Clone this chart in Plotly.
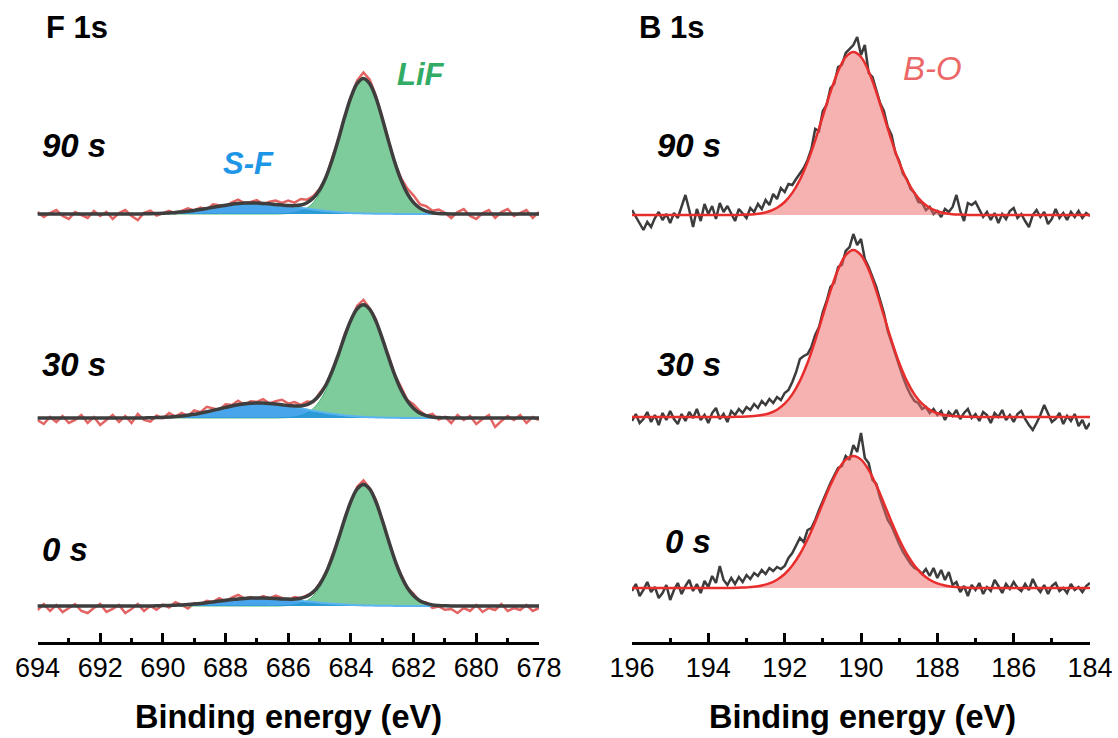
import numpy as np
import plotly.graph_objects as go

W, H = 1118, 738

# ------------------------------------------------------------------ data
SAMPLES = ["90 s", "30 s", "0 s"]

# energy grids (eV)
F_ENERGY = np.round(np.linspace(694.0, 678.0, 81), 2)       # 0.2 eV step
B_ENERGY_RAW = np.round(np.linspace(196.0, 184.0, 121), 2)  # 0.1 eV step
B_ENERGY_FIT = np.round(np.linspace(196.0, 184.0, 61), 2)   # 0.2 eV step

F_TICKS = [694, 692, 690, 688, 686, 684, 682, 680, 678]
B_TICKS = [196, 194, 192, 190, 188, 186, 184]

# F 1s measured spectra (a.u.)
F_RAW_90S = [2, -3, 1, 4, -2, -5, 2, -1, -4, 3, -2, 2, -5, 1, 4, -2, -6,
             1.2, 3.3, -1.5, 0.7, 3.1, 0.5, 3.1, 5.7, 3.6, 6.5, 4.6, 9.7, 8.8, 7.8, 11.7, 14.4, 10.9, 12, 13.9, 9.6, 12.2, 13.5,
             11, 13.5, 11.4, 15, 14.3, 17.9, 25.2, 35.8, 56.0, 74.7, 97.9, 114.8, 133.7, 141.6, 134.3, 118.0, 95.6, 74.0,
             50.6, 35.8, 25.4, 18.4, 9.9, 7.8, 3.3, 4.5, 1.2,
             -4, 2, 5, -2, -5, 1, 4, -4, 2, 5, -2, 1, 4, -4, 2]
F_RAW_30S = [-2, -6, 1, -4, 2, -5, -2, 3, -5, 1, -7, -2, 3, -4, 2, -5, 4, -2,
             -3.7, 2.4, -0.3, 5.0, 1.4, 5.0, 1.8, 7.7, 5.9, 11.2, 9.6, 8.1, 13.6, 13.0, 17.2, 13.2, 16.8, 16.0, 18.9, 14.5, 16.9,
             18.2, 14.4, 16.0, 13.1, 16.4, 15.8, 25.1, 33.0, 47.9, 61.7, 83.8, 98.0, 112.3, 118.2, 109.6, 98.6, 78.6, 62.7,
             42.9, 31.0, 18.0, 13.6, 6.9, 2.4, 4.1, -1.6, 1.2,
             -5, 3, -2, 2, -6, -1, 3, -9, -3, 2, -2, 3, -5, 1, -2]
F_RAW_0S = [-4, 2, -5, 1, -6, -2, 2, -5, -7, -2, 2, -6, -3, 1, -7, -3, 2, -5,
            0.1, -3.8, 1.4, -1.5, 3.8, 1.1, -2.5, 3.0, 1.6, 5.3, 4.1, 7.9, 4.7, 8.4, 11.1, 7.6, 8.9, 7.0, 9.9, 7.7, 10.4,
            8.1, 5.9, 8.9, 7.8, 10.8, 13.1, 22.6, 31.9, 50.3, 67.1, 87.9, 103.8, 119.2, 125.6, 117.9, 106.0, 85.7, 66.5,
            45.2, 31.3, 18.3, 12.2, 4.3, 3.6, -1.9, -0.5, -3.8,
            -3, -7, -2, -5, 1, -6, -2, -4, 2, -5, -2, -4, 1, -5, -2]

# F 1s fitted components on the F grid (LiF and S-F)
F_LIF_90S = [0.0] * 39 + [0.2, 0.5, 1.3, 2.8, 5.9, 11.4, 20.4, 33.7, 51.5, 72.8, 95.4, 115.7, 129.9, 135.0,
                          129.9, 115.7, 95.4, 72.8, 51.5, 33.7, 20.4, 11.4, 5.9, 2.8, 1.3, 0.5, 0.2] + [0.0] * 15
F_LIF_30S = [0.0] * 39 + [0.2, 0.4, 1.1, 2.4, 4.9, 9.5, 16.9, 27.9, 42.7, 60.4, 79.2, 96.0, 107.8, 112.0,
                          107.8, 96.0, 79.2, 60.4, 42.7, 27.9, 16.9, 9.5, 4.9, 2.4, 1.1, 0.4, 0.2] + [0.0] * 15
F_LIF_0S = [0.0] * 39 + [0.2, 0.5, 1.1, 2.6, 5.3, 10.2, 18.3, 30.2, 46.1, 65.3, 85.5, 103.7, 116.4, 121.0,
                         116.4, 103.7, 85.5, 65.3, 46.1, 30.2, 18.3, 10.2, 5.3, 2.6, 1.1, 0.5, 0.2] + [0.0] * 15
F_SF_90S = [0.0] * 17 + [0.2, 0.3, 0.5, 0.7, 1.1, 1.5, 2.1, 2.7, 3.6, 4.5, 5.6, 6.7, 7.8, 8.8, 9.7, 10.4, 10.9, 11.0,
                         10.9, 10.6, 10.2, 9.5, 8.8, 8.0, 7.1, 6.2, 5.4, 4.5, 3.8, 3.1, 2.5, 1.9, 1.5, 1.1, 0.8, 0.6,
                         0.4, 0.3, 0.2, 0.2, 0.1, 0.1, 0.0, 0.0, 0.0] + [0.0] * 19
F_SF_30S = [0.0] * 18 + [0.3, 0.4, 0.7, 1.0, 1.4, 2.0, 2.8, 3.7, 4.9, 6.2, 7.6, 9.1, 10.6, 12.0, 13.2, 14.2, 14.8, 15.0,
                         14.9, 14.5, 13.9, 13.0, 12.0, 10.9, 9.7, 8.5, 7.3, 6.2, 5.1, 4.2, 3.3, 2.6, 2.0, 1.5, 1.2, 0.8,
                         0.6, 0.4, 0.3, 0.2, 0.1, 0.1, 0.1, 0.0, 0.0] + [0.0] * 18
F_SF_0S = [0.0] * 18 + [0.1, 0.2, 0.4, 0.5, 0.8, 1.1, 1.5, 2.0, 2.6, 3.3, 4.1, 4.9, 5.7, 6.4, 7.1, 7.6, 7.9, 8.0,
                        7.9, 7.7, 7.4, 6.9, 6.4, 5.8, 5.2, 4.5, 3.9, 3.3, 2.7, 2.2, 1.8, 1.4, 1.1, 0.8, 0.6, 0.5,
                        0.3, 0.2, 0.2, 0.1, 0.1, 0.0, 0.0, 0.0, 0.0] + [0.0] * 18

# B 1s measured spectra (a.u.)
B_RAW_90S = [5, -2, -9, -15, -7, -12, -3, 3, -5, 1, -8, 2, -3, 9, 20, 5, -12, 6, -6, 11, 1, 9, -4, 12, 3, 9, 2, -6,
             6, 2, -3, 7, 3, 11, 6, 15, 10, 21, 16, 27, 23, 31, 30, 36, 42, 47, 55, 66, 86, 84, 104, 110, 127, 131, 148, 150, 162, 166,
             170, 178, 160, 170, 142, 138, 126, 112, 104, 88, 80, 62, 54, 41, 36, 26, 22, 13, 12, 5, 8, 1, 4, -2, 6, 3, 8,
             20, 4, -6, 12, 10, 13, 5, -2, 3, -5, 2, -8, 1, -4, 4, 7, -3, 1, -6, -12, 0, 5, -2, 3, -9, -4, 6, -3, 2, -5, 3, -2, 4, -3, 2, -1]
B_RAW_30S = [-4, 3, -6, -2, 5, -5, 2, -8, 4, -3, 6, -2, -7, 3, -4, 5, -1, 8, -3, 2, -6, 4, 9, -2, 3, -5, 6, 2,
             8, 4, 10, 7, 13, 9, 16, 12, 18, 14, 20, 17, 24, 27, 35, 45, 58, 61, 63, 70, 82, 90, 105, 116, 130, 134, 150, 152, 166, 170,
             183, 172, 178, 158, 150, 140, 130, 117, 104, 86, 74, 62, 50, 40, 30, 22, 16, 14, 8, 10, 4, 8, 2, 6, -3, 5, 1,
             7, -2, 4, 8, -1, 3, -4, 5, 2, -6, 4, 0, 7, -3, 2, -5, 3, 6, -2, -8, -13, -6, 2, 12, 3, -5, -2, 4, -7, 1, -4, 3, -9, -3, -12, -6]
B_RAW_0S = [-3, 4, -8, -2, 6, -4, 1, -10, -5, 3, -12, -2, 5, -6, 2, 8, -3, 4, -5, 7, 1, 12, 5, 22, 8, 3, 10, 4,
            11, 6, 13, 9, 15, 12, 18, 14, 20, 17, 21, 19, 22, 30, 35, 42, 50, 46, 58, 60, 68, 78, 88, 96, 105, 112, 120, 122, 132, 128,
            143, 136, 155, 130, 125, 108, 104, 90, 78, 68, 62, 52, 44, 36, 30, 24, 20, 18, 14, 19, 12, 20, 10, 18, 8, 16, 3,
            6, -4, 2, -8, 3, -2, 5, -6, 1, -3, 8, 2, -5, 4, -1, 6, 0, -3, 4, -2, 9, 1, -4, 3, -6, 2, 5, -3, 0, -5, 4, -2, 1, -4, 2, 5]

# B 1s fitted B-O component on the 0.2 eV grid
B_FIT_90S = [0.0] * 14 + [0.1, 0.4, 0.8, 1.8, 3.7, 7.2, 13.0, 22.1, 35.3, 52.9, 74.6, 98.9, 123.0, 143.8, 158.0, 163.0,
                          158.0, 143.8, 123.0, 98.9, 74.6, 52.9, 35.3, 22.1, 13.0, 7.2, 3.7, 1.8, 0.8, 0.4, 0.1] + [0.0] * 16
B_FIT_30S = [0.0] * 14 + [0.2, 0.4, 0.9, 1.9, 3.8, 7.3, 13.3, 22.6, 36.1, 54.2, 76.5, 101.3, 126.1, 147.4, 161.9, 167.0,
                          161.9, 147.4, 126.1, 101.3, 76.5, 54.2, 36.1, 22.6, 13.3, 7.3, 3.8, 1.9, 0.9, 0.4, 0.2] + [0.0] * 16
B_FIT_0S = [0.0] * 14 + [0.3, 0.6, 1.2, 2.5, 4.6, 8.3, 14.0, 22.5, 34.0, 48.7, 66.1, 84.8, 102.9, 118.2, 128.4, 132.0,
                         128.4, 118.2, 102.9, 84.8, 66.1, 48.7, 34.0, 22.5, 14.0, 8.3, 4.6, 2.5, 1.2, 0.6, 0.3] + [0.0] * 16

# ------------------------------------------------------------------ style / layout
F_OFFSETS = [428, 224, 36]   # vertical stacking of the spectra
B_OFFSETS = [427, 225, 54]
Y_TOP = 642                  # plot height in data units (1 unit = 1 px)

C_F_RAW = "rgb(228,100,100)"
C_ENV = "rgb(62,62,62)"
C_LIF_FILL = "rgba(40,170,90,0.6)"
C_LIF_LINE = "rgba(60,175,105,0.9)"
C_SF_FILL = "rgba(20,140,230,0.78)"
C_SF_LINE = "rgb(90,180,240)"
C_B_RAW = "rgb(60,60,60)"
C_BO_FILL = "rgba(238,105,105,0.52)"
C_BO_LINE = "rgb(232,45,45)"
FONT = "Liberation Sans, Arial, sans-serif"

fig = go.Figure()

f_raw = [F_RAW_90S, F_RAW_30S, F_RAW_0S]
f_lif = [F_LIF_90S, F_LIF_30S, F_LIF_0S]
f_sf = [F_SF_90S, F_SF_30S, F_SF_0S]
b_raw = [B_RAW_90S, B_RAW_30S, B_RAW_0S]
b_fit = [B_FIT_90S, B_FIT_30S, B_FIT_0S]

nohover = dict(hoverinfo="skip", showlegend=False)

for raw, lif, sf, off in zip(f_raw, f_lif, f_sf, F_OFFSETS):
    lif = np.array(lif)
    sf = np.array(sf)
    env = lif + sf
    base = np.full(len(F_ENERGY), off, dtype=float)
    fig.add_trace(go.Scatter(x=F_ENERGY, y=np.array(raw) + off, mode="lines",
                             line=dict(color=C_F_RAW, width=2.5), xaxis="x", yaxis="y", **nohover))
    fig.add_trace(go.Scatter(x=F_ENERGY, y=base, mode="lines", line=dict(width=0, color="rgba(0,0,0,0)"),
                             xaxis="x", yaxis="y", **nohover))
    fig.add_trace(go.Scatter(x=F_ENERGY, y=lif + off, mode="lines", fill="tonexty", fillcolor=C_LIF_FILL,
                             line=dict(color=C_LIF_LINE, width=1, shape="spline"), xaxis="x", yaxis="y", **nohover))
    fig.add_trace(go.Scatter(x=F_ENERGY, y=base, mode="lines", line=dict(width=0, color="rgba(0,0,0,0)"),
                             xaxis="x", yaxis="y", **nohover))
    fig.add_trace(go.Scatter(x=F_ENERGY, y=sf + off, mode="lines", fill="tonexty", fillcolor=C_SF_FILL,
                             line=dict(color=C_SF_LINE, width=2, shape="spline"), xaxis="x", yaxis="y", **nohover))
    fig.add_trace(go.Scatter(x=F_ENERGY, y=env + off, mode="lines",
                             line=dict(color=C_ENV, width=3.5, shape="spline"), xaxis="x", yaxis="y", **nohover))

for raw, fit, off in zip(b_raw, b_fit, B_OFFSETS):
    fit = np.array(fit)
    base = np.full(len(B_ENERGY_FIT), off, dtype=float)
    fig.add_trace(go.Scatter(x=B_ENERGY_RAW, y=np.array(raw) + off, mode="lines",
                             line=dict(color=C_B_RAW, width=2.5), xaxis="x2", yaxis="y2", **nohover))
    fig.add_trace(go.Scatter(x=B_ENERGY_FIT, y=base, mode="lines", line=dict(width=0, color="rgba(0,0,0,0)"),
                             xaxis="x2", yaxis="y2", **nohover))
    fig.add_trace(go.Scatter(x=B_ENERGY_FIT, y=fit + off, mode="lines", fill="tonexty", fillcolor=C_BO_FILL,
                             line=dict(color=C_BO_LINE, width=2.5, shape="spline"), xaxis="x2", yaxis="y2", **nohover))

axis_common = dict(
    showline=True, linecolor="black", linewidth=2.5, mirror=False,
    ticks="inside", ticklen=9, tickwidth=2.5, tickcolor="black",
    showgrid=False, zeroline=False, tickmode="array", automargin=False,
    tickfont=dict(family=FONT, size=27, color="black"),
    minor=dict(ticks="inside", ticklen=4, tickwidth=2.5, tickcolor="black", dtick=1, showgrid=False),
    fixedrange=True,
)

fig.update_layout(
    width=W, height=H, autosize=False,
    margin=dict(l=0, r=0, t=0, b=0, pad=0, autoexpand=False),
    paper_bgcolor="white", plot_bgcolor="white",
    showlegend=False,
    xaxis=dict(domain=[37.5 / W, 539 / W], range=[694, 678], anchor="y",
               tickvals=F_TICKS, ticktext=[str(t) for t in F_TICKS], **axis_common),
    xaxis2=dict(domain=[632 / W, 1090 / W], range=[196, 184], anchor="y2",
                tickvals=B_TICKS, ticktext=[str(t) for t in B_TICKS], **axis_common),
    yaxis=dict(domain=[(H - 642) / H, 1], range=[0, Y_TOP], visible=False, fixedrange=True,
               anchor="x", automargin=False),
    yaxis2=dict(domain=[(H - 642) / H, 1], range=[0, Y_TOP], visible=False, fixedrange=True,
                anchor="x2", automargin=False),
)


def px(x):
    return x / W


def py(y):
    return 1 - y / H


def label(text, x, y, size=30, color="black", bold=True, italic=True, xanchor="left"):
    t = text
    if bold:
        t = "<b>" + t + "</b>"
    if italic:
        t = "<i>" + t + "</i>"
    fig.add_annotation(text=t, x=px(x), y=py(y), xref="paper", yref="paper",
                       xanchor=xanchor, yanchor="middle", showarrow=False,
                       font=dict(family=FONT, size=size, color=color))


label("F 1s", 44, 28, size=31, italic=False)
label("B 1s", 637, 28, size=31, italic=False)

for name, y in zip(SAMPLES, [146, 364, 549]):
    label(name, 40, y, size=33)
for name, (x, y) in zip(SAMPLES, [(655, 146), (655, 364), (663, 541)]):
    label(name, x, y, size=33)

label("LiF", 395, 75, size=31, color="rgb(50,172,100)")
label("S-F", 221, 163, size=31, color="rgb(30,150,232)")
label("B-O", 901, 68, size=33, color="rgb(236,104,104)", bold=False)

label("Binding energy (eV)", 288, 717, size=32.5, italic=False, xanchor="center")
label("Binding energy (eV)", 862, 717, size=32.5, italic=False, xanchor="center")

fig.write_html("out.html")
